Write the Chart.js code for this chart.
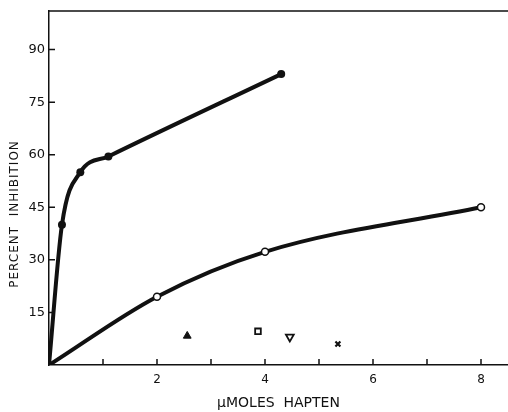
<!DOCTYPE html>
<html>
<head>
<meta charset="utf-8">
<script src="https://cdn.jsdelivr.net/npm/chart.js@4"></script>
<style>
  html, body { margin: 0; padding: 0; background: #fff; overflow: hidden; }
  #wrap { width: 508px; height: 412px; }
  canvas { display: block; }
</style>
</head>
<body>
<div id="wrap"><canvas id="chart" width="508" height="412"></canvas></div>
<script>
// values
const filledX = [0, 0.24, 0.58, 1.1, 4.3];
const filledY = [0, 40, 55, 59.5, 83];
const openX = [0, 2, 4, 8];
const openY = [0, 19.5, 32.3, 45];
const otherX = [2.56, 3.87, 4.46, 5.35];
const otherY = [8.3, 9.6, 8.0, 6.0];
const xLabelTicks = [2, 4, 6, 8];
const xMarkTicks = [1, 2, 3, 4, 5, 6, 7, 8];
const yTicks = [15, 30, 45, 60, 75, 90];

const ink = '#111';

const toPoints = (xs, ys) => xs.map((x, i) => ({ x: x, y: ys[i] }));

// inward tick marks, top border and rotated y title
const framePlugin = {
    id: 'frame',
    afterDraw(chart) {
        const ctx = chart.ctx;
        const a = chart.chartArea;
        const xs = chart.scales.x;
        const ys = chart.scales.y;
        ctx.save();
        ctx.strokeStyle = ink;
        ctx.lineWidth = 1.5;
        ctx.beginPath();
        ctx.moveTo(a.left, a.top);
        ctx.lineTo(a.right, a.top);
        xMarkTicks.forEach(v => {
            const px = xs.getPixelForValue(v);
            ctx.moveTo(px, a.bottom);
            ctx.lineTo(px, a.bottom - 6);
        });
        yTicks.forEach(v => {
            const py = ys.getPixelForValue(v);
            ctx.moveTo(a.left, py);
            ctx.lineTo(a.left + 6, py);
        });
        ctx.stroke();

        ctx.fillStyle = ink;
        ctx.font = '12px "DejaVu Sans"';
        ctx.letterSpacing = '1px';
        ctx.textAlign = 'center';
        ctx.textBaseline = 'middle';
        ctx.translate(15, 214);
        ctx.rotate(-Math.PI / 2);
        ctx.fillText('PERCENT  INHIBITION', 0, 0);
        ctx.restore();
    }
};

new Chart(document.getElementById('chart'), {
    type: 'scatter',
    data: {
        datasets: [
            {
                data: toPoints(filledX, filledY),
                showLine: true,
                borderColor: ink,
                borderWidth: 4,
                cubicInterpolationMode: 'monotone',
                pointRadius: [0, 4, 4, 4, 4],
                pointBorderWidth: 0,
                pointBackgroundColor: ink,
                pointBorderColor: ink
            },
            {
                data: toPoints(openX, openY),
                showLine: true,
                borderColor: ink,
                borderWidth: 4,
                cubicInterpolationMode: 'monotone',
                pointRadius: [0, 3.5, 3.5, 3.5],
                pointBackgroundColor: '#fff',
                pointBorderColor: ink,
                pointBorderWidth: 1.5
            },
            {
                data: toPoints(otherX, otherY),
                showLine: false,
                pointStyle: ['triangle', 'rect', 'triangle', 'crossRot'],
                rotation: [0, 0, 180, 0],
                pointRadius: [4.5, 4, 4.5, 3.5],
                pointBackgroundColor: [ink, '#fff', '#fff', ink],
                pointBorderColor: ink,
                pointBorderWidth: [1, 1.8, 1.8, 2.2]
            }
        ]
    },
    options: {
        responsive: false,
        animation: false,
        layout: { autoPadding: false, padding: { top: 11, right: 0, left: 0, bottom: 0 } },
        plugins: {
            legend: { display: false },
            tooltip: { enabled: false }
        },
        scales: {
            x: {
                type: 'linear',
                min: 0,
                max: 8.5,
                afterFit: s => { s.height = 47; s.paddingLeft = 0; s.paddingRight = 0; },
                afterBuildTicks: s => { s.ticks = xLabelTicks.map(v => ({ value: v })); },
                grid: { display: false, drawTicks: false },
                border: { display: true, color: ink, width: 1.5 },
                ticks: { color: ink, padding: 8, font: { family: 'DejaVu Sans', size: 12 } },
                title: {
                    display: true,
                    text: 'µMOLES  HAPTEN',
                    color: ink,
                    padding: { top: 0, bottom: 0 },
                    font: { family: 'DejaVu Sans', size: 14 }
                }
            },
            y: {
                type: 'linear',
                min: 0,
                max: 101,
                afterFit: s => { s.width = 49; s.paddingTop = 0; s.paddingBottom = 0; },
                afterBuildTicks: s => { s.ticks = yTicks.map(v => ({ value: v })); },
                grid: { display: false, drawTicks: false },
                border: { display: true, color: ink, width: 1.5 },
                ticks: { color: ink, padding: 4, font: { family: 'DejaVu Sans', size: 13 } }
            }
        }
    },
    plugins: [framePlugin]
});
</script>
</body>
</html>
